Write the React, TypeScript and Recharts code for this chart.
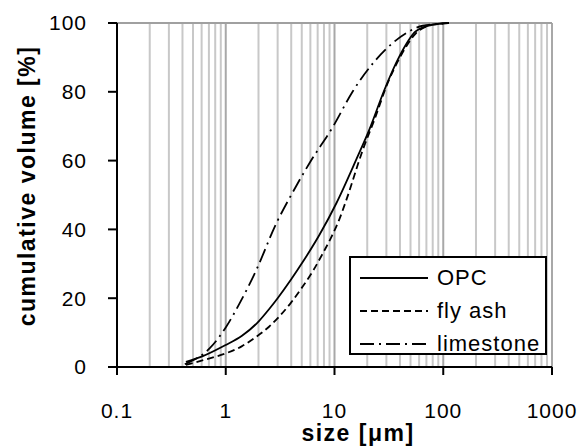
import { Label, Legend, Line, LineChart, ReferenceLine, XAxis, YAxis } from "recharts";

const FONT = '"Liberation Sans", Arial, sans-serif';

const opcSize = [0.43, 0.6, 1.0, 1.4, 2.0, 2.5, 3.0, 4.0, 5.1, 7.3, 10.4, 15.8, 20.9, 28.8, 39.5, 56, 80, 113];
const opcVolume = [1.5, 3.0, 6.4, 9.0, 13.2, 16.8, 20.0, 25.5, 30.5, 38.5, 47.6, 60.2, 69.0, 80.6, 90.3, 97.6, 99.5, 100];

const flyAshSize = [0.43, 0.62, 1.01, 1.4, 1.91, 2.5, 3.13, 4.0, 5.1, 6.3, 7.8, 9.3, 11.1, 12.8, 18.2, 23.3, 30.8, 40, 56, 80, 113];
const flyAshVolume = [0.6, 2.0, 4.0, 6.0, 8.8, 11.7, 14.8, 18.8, 23.4, 27.8, 33.0, 37.6, 43.0, 48.4, 63.1, 71.9, 82.5, 90.0, 97.0, 99.5, 100];

const limestoneSize = [0.42, 0.71, 1.01, 1.34, 1.91, 2.92, 4.0, 5.9, 9.7, 14.7, 23.3, 34.3, 48.8, 64.6, 100];
const limestoneVolume = [0.8, 5.4, 11.7, 18.5, 28.2, 41.8, 50.0, 59.3, 69.9, 80.1, 88.8, 94.2, 97.6, 99.2, 99.8];

const xTicks = [0.1, 1, 10, 100, 1000];
const yTicks = [0, 20, 40, 60, 80, 100];
const gridMinor = [
  0.2, 0.3, 0.4, 0.5, 0.6, 0.7, 0.8, 0.9,
  2, 3, 4, 5, 6, 7, 8, 9,
  20, 30, 40, 50, 60, 70, 80, 90,
  200, 300, 400, 500, 600, 700, 800, 900,
];
const gridMajor = [1, 10, 100, 1000];

const toPoints = (sizes: number[], volumes: number[]) =>
  sizes.map((x, i) => ({ x, v: volumes[i] }));

const series = [
  { name: "OPC", data: toPoints(opcSize, opcVolume), dash: undefined as string | undefined },
  { name: "fly ash", data: toPoints(flyAshSize, flyAshVolume), dash: "7 4" },
  { name: "limestone", data: toPoints(limestoneSize, limestoneVolume), dash: "14 5 2 5" },
];

function LegendBox() {
  return (
    <div
      style={{
        boxSizing: "border-box",
        width: 198,
        height: 99,
        border: "2px solid #000",
        background: "#fff",
        padding: "3px 0 0 8px",
        fontFamily: FONT,
        fontSize: 22,
        letterSpacing: 1,
        color: "#000",
      }}
    >
      {series.map((s) => (
        <div key={s.name} style={{ display: "flex", alignItems: "center", height: 33 }}>
          <svg width={70} height={10} style={{ marginRight: 8 }}>
            <line x1={1} x2={69} y1={5} y2={5} stroke="#000" strokeWidth={2} strokeDasharray={s.dash} />
          </svg>
          <span>{s.name}</span>
        </div>
      ))}
    </div>
  );
}

export default function App() {
  return (
    <div style={{ position: "absolute", left: 0, top: 0, background: "#fff" }}>
      <LineChart width={584} height={448} margin={{ top: 23, right: 32, bottom: 0, left: 0 }}>
        {gridMinor.map((v) => (
          <ReferenceLine key={`n${v}`} x={v} stroke="#c8c8c8" strokeWidth={2} />
        ))}
        {gridMajor.map((v) => (
          <ReferenceLine key={`m${v}`} x={v} stroke="#a8a8a8" strokeWidth={2} />
        ))}
        <ReferenceLine y={100} stroke="#a0a0a0" strokeWidth={2} />
        <XAxis
          dataKey="x"
          type="number"
          scale="log"
          domain={[0.1, 1000]}
          ticks={xTicks}
          allowDataOverflow
          height={81}
          tickSize={8}
          tickMargin={28}
          axisLine={{ stroke: "#000", strokeWidth: 2 }}
          tickLine={{ stroke: "#000", strokeWidth: 2 }}
          tick={{ fill: "#000", fontSize: 21, fontFamily: FONT, letterSpacing: 1 }}
          tickFormatter={(v) => String(v)}
          label={
            <Label
              content={() => (
                <text x={358} y={441} textAnchor="middle" fontFamily={FONT} fontSize={23} fontWeight="bold" letterSpacing={1.5} fill="#000">
                  size [μm]
                </text>
              )}
            />
          }
        />
        <YAxis
          type="number"
          domain={[0, 100]}
          ticks={yTicks}
          width={117}
          tickSize={9}
          tickMargin={21}
          axisLine={{ stroke: "#000", strokeWidth: 2 }}
          tickLine={{ stroke: "#000", strokeWidth: 2 }}
          tick={{ fill: "#000", fontSize: 21, fontFamily: FONT, letterSpacing: 1 }}
          label={
            <Label
              content={() => (
                <text
                  x={35}
                  y={186}
                  transform="rotate(-90 35 186)"
                  textAnchor="middle"
                  fontFamily={FONT}
                  fontSize={23}
                  fontWeight="bold"
                  letterSpacing={1.5}
                  fill="#000"
                >
                  cumulative volume [%]
                </text>
              )}
            />
          }
        />
        {series.map((s) => (
          <Line
            key={s.name}
            data={s.data}
            dataKey="v"
            name={s.name}
            type="monotone"
            stroke="#000"
            strokeWidth={1.8}
            strokeDasharray={s.dash}
            dot={false}
            activeDot={false}
            isAnimationActive={false}
          />
        ))}
        <Legend
          layout="vertical"
          align="center"
          verticalAlign="middle"
          wrapperStyle={{ left: 349, top: 256, width: 198, height: 99 }}
          content={() => <LegendBox />}
        />
      </LineChart>
    </div>
  );
}
